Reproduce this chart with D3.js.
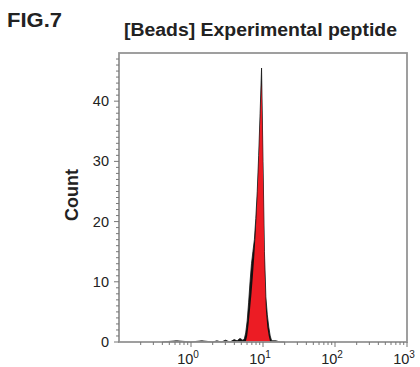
<!DOCTYPE html>
<html lang="en">
<head>
  <meta charset="UTF-8">
  <title>FIG.7 - Beads histogram</title>
  <script src="https://d3js.org/d3.v7.min.js"></script>
  <style>
    body { margin: 0; background: #fff; }
    text { font-family: "Liberation Sans", Arial, sans-serif; fill: #222; }
  </style>
</head>
<body>
  <div id="chart"></div>
  <script>
    // fluorescence channel (log scale) and counts
    const blackX = [0.40, 0.63, 1.0, 1.41, 2.0, 2.29, 2.63, 3.02, 3.47, 3.98, 4.37, 4.79, 5.25,
      5.50, 5.75, 6.03, 6.31, 6.61, 6.92, 7.24, 7.59, 7.94, 8.32, 8.71, 9.12, 9.55,
      10.0, 10.47, 10.96, 11.48, 12.02, 12.59, 13.18, 15.1, 17.4, 19.95];
    const blackCount = [0, 0.2, 0, 0.2, 0, 0.2, 0, 0.3, 0, 0.4, 0.2, 0.6, 0.3,
      0.5, 1.5, 3.5, 6.5, 10, 13, 15, 17, 20.5, 25, 31, 38, 45.5,
      30, 15, 7.5, 4.5, 2.5, 1, 0.2, 0.2, 0, 0];

    const redX = [5.75, 6.03, 6.31, 6.61, 6.92, 7.24, 7.59, 7.94, 8.32, 8.71, 9.12, 9.55,
      10.0, 10.47, 10.96, 11.48, 12.02, 12.59];
    const redCount = [0, 1, 3, 5.5, 8, 11, 14.5, 18.5, 23.5, 29.5, 36.5, 43,
      28, 13, 5.5, 2.5, 1, 0];

    const yTicks = [0, 10, 20, 30, 40];
    const xTicks = [1, 10, 100, 1000];
    const xTickExp = ["0", "1", "2", "3"];

    const W = 420, H = 367;
    const plotLeft = 119, plotRight = 407, plotTop = 53, plotBottom = 342;

    const svg = d3.select("#chart").append("svg")
      .attr("width", W).attr("height", H);

    const x = d3.scaleLog().domain([0.1, 1000]).range([plotLeft, plotRight]);
    const y = d3.scaleLinear().domain([0, 48]).range([plotBottom, plotTop]);

    // titles
    svg.append("text").attr("x", 7).attr("y", 27)
      .attr("font-size", "21px").attr("font-weight", "bold")
      .attr("textLength", 55).attr("lengthAdjust", "spacingAndGlyphs")
      .text("FIG.7");

    svg.append("text").attr("x", 124).attr("y", 36)
      .attr("font-size", "18px").attr("font-weight", "bold")
      .attr("textLength", 273).attr("lengthAdjust", "spacingAndGlyphs")
      .text("[Beads] Experimental peptide");

    svg.append("text")
      .attr("transform", `translate(78,195) rotate(-90)`)
      .attr("text-anchor", "middle")
      .attr("font-size", "18px").attr("font-weight", "bold")
      .text("Count");

    // histogram
    const area = d3.area()
      .x(d => x(d[0]))
      .y0(y(0))
      .y1(d => y(d[1]));

    svg.append("path")
      .datum(d3.zip(blackX, blackCount))
      .attr("d", area)
      .attr("fill", "#111")
      .attr("stroke", "#111")
      .attr("stroke-width", 0.8);

    svg.append("path")
      .datum(d3.zip(redX, redCount))
      .attr("d", area)
      .attr("fill", "#ec1c24");

    // frame
    svg.append("rect")
      .attr("x", plotLeft).attr("y", plotTop)
      .attr("width", plotRight - plotLeft).attr("height", plotBottom - plotTop)
      .attr("fill", "none").attr("stroke", "#959595").attr("stroke-width", 1.8);

    // y axis: minor every 1, major every 10
    const yAxis = svg.append("g").attr("transform", `translate(${plotLeft},0)`);
    yAxis.selectAll("line.minor")
      .data(d3.range(1, 48).filter(v => v % 10 !== 0))
      .join("line")
      .attr("class", "minor")
      .attr("x1", -3).attr("x2", 0)
      .attr("y1", d => y(d)).attr("y2", d => y(d))
      .attr("stroke", "#777").attr("stroke-width", 1);
    yAxis.selectAll("line.major")
      .data(yTicks)
      .join("line")
      .attr("class", "major")
      .attr("x1", -5).attr("x2", 0)
      .attr("y1", d => y(d)).attr("y2", d => y(d))
      .attr("stroke", "#777").attr("stroke-width", 1);
    yAxis.selectAll("text")
      .data(yTicks)
      .join("text")
      .attr("x", -10)
      .attr("y", d => y(d) + 5)
      .attr("text-anchor", "end")
      .attr("font-size", "14.5px")
      .text(d => d);

    // x axis: log minor ticks
    const minorX = [];
    [0.1, 1, 10, 100].forEach(dec => {
      for (let k = 2; k <= 9; k++) minorX.push(dec * k);
    });
    const xAxis = svg.append("g").attr("transform", `translate(0,${plotBottom})`);
    xAxis.selectAll("line.minor")
      .data(minorX)
      .join("line")
      .attr("class", "minor")
      .attr("x1", d => x(d)).attr("x2", d => x(d))
      .attr("y1", 0).attr("y2", 3)
      .attr("stroke", "#777").attr("stroke-width", 1);
    xAxis.selectAll("line.major")
      .data(xTicks)
      .join("line")
      .attr("class", "major")
      .attr("x1", d => x(d)).attr("x2", d => x(d))
      .attr("y1", 0).attr("y2", 5)
      .attr("stroke", "#777").attr("stroke-width", 1);

    const lab = xAxis.selectAll("text")
      .data(xTicks)
      .join("text")
      .attr("x", d => x(d) - 3)
      .attr("y", 22)
      .attr("text-anchor", "middle")
      .attr("font-size", "14.5px");
    lab.append("tspan").text("10");
    lab.append("tspan")
      .attr("dy", -6)
      .attr("font-size", "10px")
      .text((d, i) => xTickExp[i]);
  </script>
</body>
</html>
